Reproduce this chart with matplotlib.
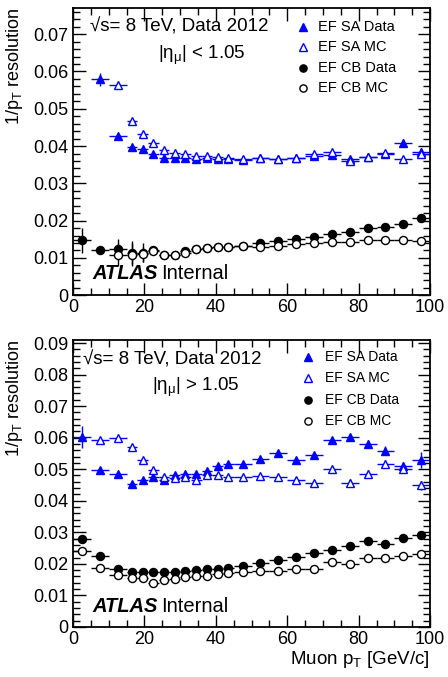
#!/usr/bin/python
# -*- coding: utf-8 -*-

"""
EF muon 1/pT resolution, barrel and endcap
"""

import matplotlib
matplotlib.use('Agg')
import matplotlib.pyplot as plt
from matplotlib.ticker import MultipleLocator
import numpy as np

nan = np.nan

# bins in muon pT [GeV/c]
pt_center = [2.5, 7.5, 12.5, 16.5, 19.5, 22.5, 25.5, 28.5, 31.5, 34.5, 37.5,
             40.5, 43.5, 47.5, 52.5, 57.5, 62.5, 67.5, 72.5, 77.5, 82.5, 87.5,
             92.5, 97.5]
pt_halfwidth = [2.5, 2.5, 2.5, 1.5, 1.5, 1.5, 1.5, 1.5, 1.5, 1.5, 1.5,
                1.5, 1.5, 2.5, 2.5, 2.5, 2.5, 2.5, 2.5, 2.5, 2.5, 2.5,
                2.5, 2.5]

# |eta| < 1.05
barrel_sa_data = [nan, 0.0579, 0.0426, 0.0398, 0.0391, 0.0380, 0.0368, 0.0368,
                  0.0367, 0.0366, 0.0367, 0.0364, 0.0364, 0.0363, 0.0368, 0.0365,
                  0.0368, 0.0373, 0.0377, 0.0364, 0.0371, 0.0378, 0.0408, 0.0383]
barrel_sa_data_err = [nan, 0.0018, 0.0004, 0.0004, 0.0004, 0.0004, 0.0004, 0.0004,
                      0.0004, 0.0004, 0.0004, 0.0004, 0.0004, 0.0004, 0.0004, 0.0004,
                      0.0004, 0.0005, 0.0005, 0.0005, 0.0005, 0.0007, 0.0010, 0.0012]
barrel_sa_mc = [nan, nan, 0.0565, 0.0467, 0.0432, 0.0407, 0.0389, 0.0381,
                0.0380, 0.0373, 0.0372, 0.0371, 0.0369, 0.0364, 0.0368, 0.0365,
                0.0368, 0.0380, 0.0383, 0.0359, 0.0371, 0.0382, 0.0365, 0.0380]
barrel_sa_mc_err = [nan, nan, 0.0005, 0.0004, 0.0004, 0.0004, 0.0004, 0.0004,
                    0.0004, 0.0004, 0.0004, 0.0004, 0.0004, 0.0004, 0.0004, 0.0004,
                    0.0004, 0.0005, 0.0005, 0.0005, 0.0005, 0.0006, 0.0007, 0.0008]
barrel_cb_data = [0.0147, 0.0121, 0.0123, 0.0114, 0.0114, 0.0121, 0.0107, 0.0107,
                  0.0118, 0.0125, 0.0127, 0.0129, 0.0129, 0.0131, 0.0140, 0.0146,
                  0.0150, 0.0156, 0.0164, 0.0170, 0.0181, 0.0184, 0.0190, 0.0207]
barrel_cb_data_err = [0.0034, 0.0004, 0.0028, 0.0030, 0.0025, 0.0004, 0.0010, 0.0005,
                      0.0004, 0.0003, 0.0003, 0.0003, 0.0003, 0.0003, 0.0003, 0.0003,
                      0.0003, 0.0003, 0.0003, 0.0003, 0.0003, 0.0003, 0.0003, 0.0004]
barrel_cb_mc = [nan, nan, 0.0109, 0.0109, 0.0110, 0.0119, 0.0107, 0.0107,
                0.0112, 0.0124, 0.0127, 0.0129, 0.0129, 0.0131, 0.0130, 0.0132,
                0.0137, 0.0140, 0.0143, 0.0143, 0.0147, 0.0147, 0.0149, 0.0145]
barrel_cb_mc_err = [nan, nan, 0.0030, 0.0030, 0.0020, 0.0004, 0.0004, 0.0004,
                    0.0003, 0.0003, 0.0003, 0.0003, 0.0003, 0.0003, 0.0003, 0.0003,
                    0.0003, 0.0003, 0.0003, 0.0003, 0.0003, 0.0003, 0.0003, 0.0003]

# |eta| > 1.05
endcap_sa_data = [0.0602, 0.0497, 0.0484, 0.0453, 0.0467, 0.0476, 0.0465, 0.0483,
                  0.0486, 0.0484, 0.0495, 0.0509, 0.0516, 0.0518, 0.0533, 0.0552,
                  0.0528, 0.0544, 0.0594, 0.0602, 0.0581, 0.0559, 0.0509, 0.0528]
endcap_sa_data_err = [0.0035, 0.0004, 0.0004, 0.0004, 0.0004, 0.0004, 0.0004, 0.0004,
                      0.0004, 0.0004, 0.0004, 0.0004, 0.0004, 0.0004, 0.0004, 0.0004,
                      0.0005, 0.0005, 0.0008, 0.0010, 0.0012, 0.0015, 0.0015, 0.0025]
endcap_sa_mc = [nan, 0.0594, 0.0600, 0.0569, 0.0528, 0.0497, 0.0476, 0.0471,
                0.0474, 0.0465, 0.0481, 0.0483, 0.0476, 0.0476, 0.0478, 0.0474,
                0.0467, 0.0457, 0.0502, 0.0457, 0.0486, 0.0516, 0.0502, 0.0449]
endcap_sa_mc_err = [nan, 0.0008, 0.0008, 0.0005, 0.0005, 0.0005, 0.0005, 0.0005,
                    0.0005, 0.0005, 0.0005, 0.0005, 0.0005, 0.0005, 0.0005, 0.0005,
                    0.0005, 0.0006, 0.0008, 0.0012, 0.0012, 0.0012, 0.0015, 0.0015]
endcap_cb_data = [0.0278, 0.0225, 0.0183, 0.0175, 0.0175, 0.0173, 0.0173, 0.0175,
                  0.0177, 0.0180, 0.0183, 0.0184, 0.0186, 0.0193, 0.0203, 0.0212,
                  0.0222, 0.0233, 0.0244, 0.0257, 0.0272, 0.0262, 0.0281, 0.0291]
endcap_cb_data_err = [0.0008, 0.0004, 0.0003, 0.0003, 0.0003, 0.0003, 0.0003, 0.0003,
                      0.0003, 0.0003, 0.0003, 0.0003, 0.0003, 0.0003, 0.0003, 0.0003,
                      0.0003, 0.0003, 0.0003, 0.0003, 0.0003, 0.0003, 0.0003, 0.0003]
endcap_cb_mc = [0.0241, 0.0188, 0.0165, 0.0156, 0.0156, 0.0138, 0.0149, 0.0151,
                0.0159, 0.0161, 0.0162, 0.0167, 0.0170, 0.0173, 0.0178, 0.0177,
                0.0184, 0.0184, 0.0207, 0.0198, 0.0219, 0.0219, 0.0225, 0.0231]
endcap_cb_mc_err = [0.0012, 0.0004, 0.0003, 0.0003, 0.0003, 0.0003, 0.0003, 0.0003,
                    0.0003, 0.0003, 0.0003, 0.0003, 0.0003, 0.0003, 0.0003, 0.0003,
                    0.0003, 0.0003, 0.0003, 0.0003, 0.0003, 0.0003, 0.0003, 0.0003]

legend_labels = ['EF SA Data', 'EF SA MC', 'EF CB Data', 'EF CB MC']

BLUE = '#0000ff'
STYLES = [  # marker, colour, filled
    ('^', BLUE, True),
    ('^', BLUE, False),
    ('o', 'black', True),
    ('o', 'black', False),
]


def draw_series(ax, y, yerr, style):
    marker, color, filled = style
    ax.errorbar(pt_center, y, xerr=pt_halfwidth, yerr=yerr, fmt='none',
                ecolor=color, elinewidth=1.0, capsize=0, zorder=2)
    ax.plot(pt_center, y, linestyle='none', marker=marker,
            markersize=6.2 if marker == '^' else 5.8,
            markerfacecolor=color if filled else 'white',
            markeredgecolor=color, markeredgewidth=1.0, zorder=3)


def style_axes(ax, ymax):
    ax.set_xlim(0, 100)
    ax.set_ylim(0, ymax)
    ax.xaxis.set_major_locator(MultipleLocator(20))
    ax.xaxis.set_minor_locator(MultipleLocator(5))
    ax.yaxis.set_major_locator(MultipleLocator(0.01))
    ax.yaxis.set_minor_locator(MultipleLocator(0.002))
    ax.tick_params(which='both', direction='in', top=True, right=True,
                   labelsize=13, width=1.0)
    ax.tick_params(which='major', length=9)
    ax.tick_params(which='minor', length=5)
    ax.tick_params(axis='x', pad=3)
    for s in ax.spines.values():
        s.set_linewidth(1.3)
    ax.yaxis.set_major_formatter(
        matplotlib.ticker.FuncFormatter(lambda v, p: '0' if v == 0 else '%.2f' % v))
    ax.set_ylabel(r'1/$\mathrm{p_T}$ resolution', fontsize=13, loc='top')
    ax.yaxis.set_label_coords(-0.135, 1.0)


def draw_panel(ax, series, ymax, eta_text, txt, leg, legsize):
    for (y, yerr), style in zip(series, STYLES):
        draw_series(ax, y, yerr, style)
    style_axes(ax, ymax)

    ax.text(txt[0], txt[1], '√s= 8 TeV, Data 2012', transform=ax.transAxes,
            fontsize=13.5, va='center', ha='left')
    ax.text(txt[2], txt[3], eta_text, transform=ax.transAxes,
            fontsize=13.5, va='center', ha='left')
    ax.text(0.053, txt[4], 'ATLAS', transform=ax.transAxes, fontsize=14.5,
            fontweight='bold', fontstyle='italic', va='center', ha='left')
    ax.text(0.248, txt[4], 'Internal', transform=ax.transAxes, fontsize=14.5,
            va='center', ha='left')

    mx, tx, rows = leg
    for label, (marker, color, filled), ry in zip(legend_labels, STYLES, rows):
        ax.plot([mx], [ry], transform=ax.transAxes, linestyle='none',
                marker=marker, markersize=5.5 if marker == '^' else 5.2,
                markerfacecolor=color if filled else 'white',
                markeredgecolor=color, markeredgewidth=1.0, clip_on=False)
        ax.text(tx, ry, label, transform=ax.transAxes, fontsize=legsize,
                va='center', ha='left')


def main():
    fig = plt.figure(figsize=(4.48, 6.77), dpi=100)
    ax1 = fig.add_axes([0.163, 0.564, 0.797, 0.424])
    ax2 = fig.add_axes([0.163, 0.074, 0.797, 0.424])

    draw_panel(ax1,
               [(barrel_sa_data, barrel_sa_data_err),
                (barrel_sa_mc, barrel_sa_mc_err),
                (barrel_cb_data, barrel_cb_data_err),
                (barrel_cb_mc, barrel_cb_mc_err)],
               0.077, r'|$\mathrm{η_{μ}}$| < 1.05',
               (0.048, 0.934, 0.238, 0.836, 0.077),
               (0.644, 0.686, (0.934, 0.864, 0.791, 0.721)), 10.5)

    draw_panel(ax2,
               [(endcap_sa_data, endcap_sa_data_err),
                (endcap_sa_mc, endcap_sa_mc_err),
                (endcap_cb_data, endcap_cb_data_err),
                (endcap_cb_mc, endcap_cb_mc_err)],
               0.091, r'|$\mathrm{η_{μ}}$| > 1.05',
               (0.028, 0.930, 0.221, 0.836, 0.070),
               (0.658, 0.706, (0.941, 0.868, 0.791, 0.718)), 10)

    ax2.set_xlabel(r'Muon $\mathrm{p_T}$ [GeV/c]', fontsize=13.5, loc='right',
                   labelpad=1)

    fig.savefig('out.png', dpi=100)


if __name__ == '__main__':
    plt.rcParams['font.family'] = ['Liberation Sans', 'DejaVu Sans']
    plt.rcParams['mathtext.fontset'] = 'custom'
    plt.rcParams['mathtext.rm'] = 'Liberation Sans'
    plt.rcParams['mathtext.it'] = 'Liberation Sans:italic'
    main()
